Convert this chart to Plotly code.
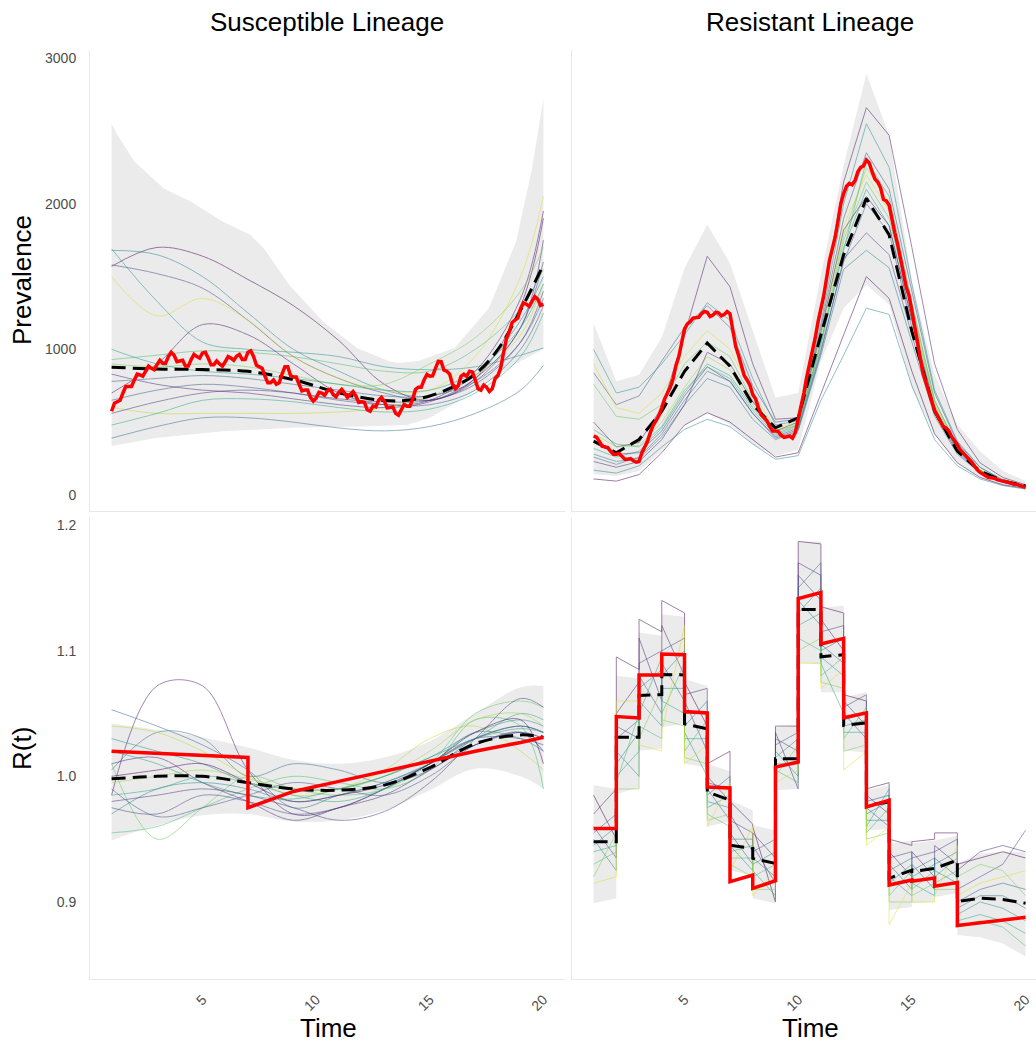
import plotly.graph_objects as go
from plotly.colors import sample_colorscale

# ================= DATA =================
# ---------- Top-left: Susceptible prevalence ----------
TL_X = [1, 3, 5, 7, 9, 11, 13, 15, 17, 19, 20]
TL_LINES = [
    [1570, 1700, 1640, 1480, 1300, 1060, 760, 650, 800, 1300, 1900],
    [1680, 1650, 1500, 1250, 1000, 850, 720, 680, 820, 1200, 1500],
    [1690, 1330, 1050, 1000, 980, 950, 880, 860, 880, 960, 1010],
    [1580, 1520, 1420, 1200, 950, 800, 700, 650, 780, 1150, 1600],
    [1500, 1230, 1350, 1200, 950, 800, 720, 720, 950, 1500, 2050],
    [700, 900, 1170, 1100, 900, 700, 620, 650, 850, 1350, 1950],
    [930, 960, 990, 980, 950, 900, 850, 850, 1000, 1280, 1550],
    [780, 800, 820, 800, 760, 720, 680, 680, 780, 1050, 1350],
    [650, 720, 760, 740, 700, 650, 620, 620, 720, 1000, 1300],
    [600, 560, 560, 560, 560, 570, 600, 680, 820, 1100, 1450],
    [480, 560, 650, 660, 640, 600, 570, 590, 700, 950, 1250],
    [390, 470, 530, 530, 500, 460, 440, 470, 560, 720, 890],
    [830, 760, 720, 700, 660, 620, 600, 640, 800, 1150, 1750],
    [900, 880, 900, 880, 820, 760, 760, 900, 1080, 1400, 1700],
    [1000, 900, 850, 830, 800, 760, 720, 720, 850, 1150, 1450],
    [560, 640, 700, 720, 700, 660, 640, 650, 760, 1050, 1400],
]
TL_MEAN_X = [1, 3, 5, 7, 9, 11, 13, 14, 15, 16, 17, 18, 19, 20]
TL_MEAN = [877, 865, 861, 849, 792, 701, 648, 650, 680, 740, 830, 1000, 1270, 1580]
TL_UP_X = [1, 1.3, 2, 3.3, 4.5, 5.9, 7.1, 7.7, 8.8, 10.3, 11.8, 13.2, 13.6, 14.5, 16.1, 17.6, 18.8, 19.5, 20]
TL_UP = [2550, 2460, 2290, 2105, 2014, 1877, 1787, 1694, 1445, 1192, 1009, 918, 906, 920, 1009, 1283, 1740, 2242, 2721]
TL_LO_X = [1, 3, 5.9, 9, 12, 14, 15, 16, 17, 18, 19, 20]
TL_LO = [336, 393, 438, 461, 470, 480, 530, 620, 720, 820, 920, 1000]
# observed (red) trajectory, sampled every 0.125 time units from t=1 to t=20
TL_RED = [575, 630, 640, 650, 700, 745, 745, 745, 790, 830, 825, 815, 850, 885, 870, 860,
          895, 925, 905, 905, 950, 980, 960, 915, 920, 925, 885, 885, 930, 965, 950, 940,
          975, 980, 940, 895, 895, 920, 900, 885, 915, 950, 940, 925, 952, 965, 930, 930,
          980, 990, 950, 890, 880, 870, 815, 770, 770, 790, 760, 770, 830, 880, 880, 820,
          810, 810, 760, 715, 720, 720, 670, 645, 665, 705, 700, 685, 715, 725, 690, 675,
          705, 725, 700, 670, 690, 710, 680, 635, 640, 635, 585, 575, 610, 605, 650, 670,
          645, 598, 600, 605, 560, 548, 585, 622, 610, 610, 660, 725, 740, 740, 790, 827,
          815, 818, 870, 917, 915, 857, 850, 830, 760, 730, 750, 815, 830, 815, 850, 845,
          790, 730, 720, 755, 740, 710, 730, 800, 820, 875, 980, 1075, 1120, 1185, 1200, 1215,
          1280, 1320, 1310, 1295, 1330, 1362, 1345, 1302, 1310]

# ---------- Top-right: Resistant prevalence ----------
TR_X = list(range(1, 21))
TR_LINES = [
    [500, 330, 360, 600, 1100, 1640, 1430, 900, 520, 530, 1250, 2150, 2660, 2470, 1700, 900, 450, 220, 120, 70],
    [840, 620, 680, 920, 1150, 1300, 1150, 750, 500, 520, 1150, 1900, 2350, 2100, 1400, 700, 360, 190, 100, 60],
    [1000, 700, 740, 900, 1100, 1320, 1200, 800, 480, 510, 1180, 2000, 2550, 2250, 1450, 720, 370, 190, 105, 65],
    [900, 600, 560, 700, 950, 1130, 1000, 700, 460, 500, 1100, 1850, 2200, 1950, 1300, 650, 330, 175, 95, 60],
    [760, 540, 520, 620, 900, 1050, 950, 650, 440, 480, 1050, 1750, 2150, 1900, 1250, 620, 320, 170, 95, 60],
    [110, 95, 140, 290, 480, 565, 500, 380, 260, 290, 700, 1100, 1500, 1350, 850, 420, 220, 120, 70, 45],
    [170, 150, 200, 330, 450, 520, 470, 350, 245, 270, 650, 960, 1283, 1240, 750, 380, 200, 110, 65, 40],
    [260, 210, 260, 420, 650, 850, 780, 560, 400, 460, 1000, 1600, 2000, 1800, 1150, 580, 300, 160, 90, 55],
    [320, 260, 300, 460, 700, 900, 820, 600, 420, 480, 1050, 1700, 2100, 1850, 1200, 600, 310, 165, 92, 58],
    [420, 330, 340, 500, 740, 950, 860, 620, 430, 490, 1080, 1780, 2250, 2000, 1280, 640, 330, 170, 95, 60],
    [360, 280, 290, 440, 680, 880, 780, 560, 390, 450, 980, 1620, 1800, 1650, 1100, 560, 290, 155, 88, 55],
    [280, 230, 250, 400, 620, 800, 740, 520, 380, 440, 960, 1550, 1680, 1560, 1050, 540, 280, 150, 85, 52],
    [450, 350, 330, 470, 720, 880, 800, 580, 410, 470, 1030, 1680, 2300, 2050, 1320, 650, 330, 170, 95, 60],
    [230, 190, 230, 380, 620, 980, 900, 640, 440, 500, 1120, 1820, 2050, 1850, 1200, 600, 310, 160, 90, 55],
]
TR_MEAN = [370, 290, 381, 575, 849, 1043, 884, 621, 461, 530, 1100, 1649, 2037, 1786, 1124, 575, 301, 164, 96, 62]
TR_UP = [1180, 781, 826, 1083, 1557, 1858, 1591, 1124, 667, 701, 1511, 2265, 2893, 2470, 1466, 826, 484, 301, 164, 96]
TR_LO = [142, 130, 164, 301, 484, 564, 484, 347, 267, 313, 918, 1283, 1443, 1306, 735, 415, 221, 119, 62, 39]
TR_RED = [404, 397, 370, 335, 330, 325, 300, 280, 280, 285, 265, 245, 245, 250, 235, 225,
          230, 290, 330, 370, 430, 480, 510, 545, 600, 660, 700, 740, 800, 890, 950, 1040,
          1140, 1175, 1190, 1215, 1220, 1220, 1245, 1260, 1255, 1225, 1235, 1255, 1250, 1230, 1240, 1260,
          1245, 1140, 1020, 960, 880, 820, 790, 755, 690, 660, 600, 550, 530, 510, 470, 440,
          440, 435, 410, 395, 400, 405, 390, 430, 520, 600, 700, 810, 900, 975, 1080, 1190,
          1280, 1370, 1490, 1610, 1690, 1770, 1880, 2000, 2070, 2120, 2140, 2130, 2160, 2220, 2250, 2260,
          2300, 2280, 2220, 2170, 2150, 2110, 2030, 2020, 1990, 1880, 1800, 1720, 1620, 1520, 1430, 1370,
          1270, 1170, 1050, 930, 830, 770, 700, 630, 580, 545, 500, 470, 460, 440, 400, 375,
          345, 310, 290, 275, 255, 228, 200, 172, 155, 145, 130, 120, 118, 115, 105, 97,
          95, 92, 85, 76, 74, 72, 65, 56, 52]

# ---------- Bottom-left: Susceptible R(t) ----------
BL_X = [1, 3, 5, 7, 9, 11, 13, 15, 17, 19, 20]
BL_LINES = [
    [0.985, 1.072, 1.072, 1.005, 0.970, 0.975, 0.990, 1.010, 1.030, 1.040, 1.035],
    [1.053, 1.040, 1.025, 1.005, 0.975, 0.985, 0.995, 1.010, 1.025, 1.035, 1.030],
    [1.005, 1.035, 1.030, 1.000, 1.010, 1.005, 0.995, 1.005, 1.030, 1.040, 1.035],
    [1.040, 1.035, 1.020, 1.000, 0.985, 0.990, 1.005, 1.030, 1.040, 1.020, 1.005],
    [0.955, 0.960, 0.975, 0.990, 1.000, 0.995, 0.990, 1.005, 1.045, 1.040, 0.990],
    [1.010, 0.950, 0.975, 1.000, 0.990, 0.985, 0.990, 1.010, 1.050, 1.060, 1.055],
    [1.030, 1.020, 1.010, 0.995, 0.990, 0.990, 1.000, 1.015, 1.035, 1.045, 1.040],
    [0.975, 0.970, 0.985, 0.980, 0.970, 0.975, 0.990, 1.010, 1.030, 1.030, 1.025],
    [1.010, 1.015, 0.995, 0.980, 0.965, 0.975, 0.985, 1.005, 1.025, 1.035, 1.020],
    [0.985, 0.990, 1.000, 0.995, 0.985, 0.980, 0.990, 1.010, 1.030, 1.050, 1.045],
    [0.970, 0.990, 0.995, 0.990, 0.980, 0.985, 0.995, 1.010, 1.035, 1.030, 1.020],
    [0.995, 1.000, 1.005, 0.998, 0.990, 0.990, 1.000, 1.020, 1.045, 1.050, 1.040],
    [0.990, 0.968, 0.975, 0.985, 0.995, 0.990, 0.985, 1.000, 1.025, 1.035, 1.030],
    [1.000, 1.005, 1.010, 0.995, 0.980, 0.985, 0.993, 1.010, 1.035, 1.045, 1.010],
    [1.020, 1.010, 0.995, 0.985, 0.982, 0.990, 1.000, 1.015, 1.030, 1.038, 1.035],
    [0.980, 0.985, 0.990, 0.985, 0.975, 0.965, 0.972, 0.995, 1.030, 1.062, 1.055],
]
BL_MEAN = [0.998, 1.000, 1.000, 0.995, 0.990, 0.989, 0.993, 1.007, 1.026, 1.033, 1.031]
BL_UP = [1.042, 1.037, 1.031, 1.023, 1.013, 1.010, 1.015, 1.028, 1.050, 1.071, 1.072]
BL_LO = [0.949, 0.961, 0.969, 0.970, 0.964, 0.965, 0.973, 0.989, 1.006, 1.000, 0.990]
BL_RED_X = [1, 7, 7, 9, 11, 13, 15, 17, 19, 20]
BL_RED = [1.020, 1.015, 0.975, 0.988, 0.996, 1.004, 1.012, 1.020, 1.027, 1.031]

# ---------- Bottom-right: Resistant R(t) (piecewise by interval) ----------
BR_BREAKS = list(range(1, 18))
BR_LAST_X = [17, 18, 19, 20]
BR_STARTS = [
    [0.985, 0.97, 0.96, 0.955, 0.95, 0.945, 0.94, 0.93, 0.92, 0.915],
    [1.095, 1.05, 1.04, 1.03, 1.02, 1.01, 1.0, 0.995, 0.99, 1.06],
    [1.125, 1.11, 1.09, 1.08, 1.07, 1.06, 1.05, 1.04, 1.03, 1.025],
    [1.14, 1.12, 1.1, 1.09, 1.08, 1.07, 1.06, 1.05, 1.045, 1.035],
    [1.075, 1.065, 1.06, 1.05, 1.04, 1.035, 1.03, 1.02, 1.015, 1.01],
    [1.01, 1.0, 0.995, 0.99, 0.985, 0.98, 0.975, 0.97, 0.965, 0.96],
    [0.98, 0.97, 0.965, 0.955, 0.95, 0.945, 0.94, 0.935, 0.93, 0.925],
    [0.96, 0.955, 0.945, 0.94, 0.935, 0.93, 0.925, 0.92, 0.91, 0.905],
    [1.04, 1.035, 1.03, 1.025, 1.02, 1.015, 1.01, 1.005, 1.0, 0.995],
    [1.187, 1.17, 1.16, 1.15, 1.14, 1.13, 1.12, 1.11, 1.1, 1.09],
    [1.135, 1.125, 1.115, 1.105, 1.1, 1.095, 1.09, 1.08, 1.075, 1.07],
    [1.065, 1.06, 1.055, 1.05, 1.045, 1.04, 1.035, 1.03, 1.02, 1.005],
    [0.99, 0.985, 0.98, 0.975, 0.97, 0.965, 0.96, 0.955, 0.95, 0.945],
    [0.95, 0.94, 0.935, 0.93, 0.925, 0.92, 0.915, 0.905, 0.9, 0.882],
    [0.948, 0.94, 0.935, 0.93, 0.925, 0.92, 0.915, 0.91, 0.905, 0.9],
    [0.955, 0.945, 0.94, 0.935, 0.93, 0.925, 0.92, 0.915, 0.91, 0.905],
]
BR_ENDS = [
    [0.95, 0.99, 0.935, 0.97, 0.925, 0.96, 0.945, 0.94, 0.955, 0.92],
    [1.085, 1.075, 1.03, 1.045, 1.0, 1.035, 1.02, 1.05, 0.99, 1.06],
    [1.115, 1.06, 1.1, 1.05, 1.085, 1.04, 1.095, 1.03, 1.07, 1.02],
    [1.13, 1.08, 1.11, 1.06, 1.1, 1.07, 1.05, 1.09, 1.04, 1.12],
    [1.04, 1.07, 1.02, 1.05, 1.06, 1.0, 1.03, 1.045, 1.01, 1.025],
    [1.02, 0.98, 0.99, 0.965, 1.0, 0.975, 0.985, 0.96, 0.97, 0.995],
    [0.962, 0.94, 0.955, 0.93, 0.95, 0.925, 0.945, 0.935, 0.92, 0.96],
    [0.9, 0.935, 0.915, 0.95, 0.92, 0.94, 0.905, 0.93, 0.91, 0.925],
    [1.04, 0.99, 1.02, 1.035, 1.0, 1.03, 1.01, 0.995, 1.025, 1.005],
    [1.185, 1.16, 1.14, 1.17, 1.12, 1.15, 1.13, 1.1, 1.11, 1.09],
    [1.13, 1.1, 1.12, 1.09, 1.11, 1.08, 1.05, 1.095, 1.07, 1.085],
    [1.06, 1.04, 1.065, 1.03, 1.05, 1.045, 1.035, 1.055, 1.025, 1.02],
    [0.995, 0.97, 0.985, 0.96, 0.98, 0.965, 0.99, 0.975, 0.955, 0.96],
    [0.945, 0.92, 0.94, 0.91, 0.935, 0.905, 0.93, 0.925, 0.9, 0.915],
    [0.95, 0.92, 0.94, 0.91, 0.935, 0.93, 0.905, 0.925, 0.915, 0.9],
    [0.955, 0.93, 0.95, 0.92, 0.94, 0.915, 0.935, 0.925, 0.91, 0.945],
]
BR_LAST = [
    [0.93, 0.935, 0.94, 0.935], [0.925, 0.94, 0.945, 0.94], [0.91, 0.92, 0.93, 0.957],
    [0.9, 0.91, 0.915, 0.91], [0.895, 0.905, 0.905, 0.895], [0.89, 0.9, 0.895, 0.885],
    [0.885, 0.89, 0.885, 0.875], [0.88, 0.885, 0.88, 0.865], [0.92, 0.93, 0.925, 0.905],
    [0.905, 0.915, 0.92, 0.925],
]
BR_UP_S = [0.993, 1.080, 1.1145, 1.129, 1.0775, 1.010, 0.981, 0.961, 1.039, 1.187, 1.134, 1.063, 0.989, 0.9466, 0.9466, 0.949]
BR_UP_E = [0.990, 1.078, 1.112, 1.127, 1.072, 1.004, 0.973, 0.957, 1.040, 1.187, 1.136, 1.067, 0.993, 0.949, 0.949, 0.953]
BR_LO_S = [0.899, 0.986, 1.0206, 1.039, 1.010, 0.960, 0.925, 0.903, 0.989, 1.0907, 1.067, 1.0206, 0.957, 0.8937, 0.899, 0.904]
BR_LO_E = [0.903, 0.991, 1.022, 1.042, 1.007, 0.964, 0.921, 0.899, 0.990, 1.089, 1.067, 1.019, 0.958, 0.896, 0.900, 0.907]
BR_UP_LAST = [0.9307, 0.9386, 0.940, 0.940]
BR_LO_LAST = [0.8738, 0.872, 0.867, 0.8566]
BR_MEAN_S = [0.9479, 1.0312, 1.0643, 1.081, 1.0418, 0.9876, 0.9452, 0.9347, 1.014, 1.1328, 1.0952, 1.0405, 0.977, 0.9188, 0.924, 0.9267]
BR_MEAN_E = [0.9479, 1.0312, 1.065, 1.0807, 1.0378, 0.981, 0.9426, 0.9307, 1.014, 1.1328, 1.0968, 1.0426, 0.9796, 0.9254, 0.9267, 0.9333]
BR_MEAN_LAST = [0.9003, 0.903, 0.902, 0.899]
BR_RED_S = [0.9585, 1.0476, 1.0807, 1.0973, 1.0516, 0.9915, 0.9162, 0.9108, 1.0074, 1.1415, 1.1053, 1.0466, 0.9757, 0.9135, 0.9165, 0.9125]
BR_RED_E = [0.9585, 1.0465, 1.0807, 1.0968, 1.0505, 0.9907, 0.9214, 0.9169, 1.0114, 1.1463, 1.1098, 1.0505, 0.981, 0.9175, 0.919, 0.9155]
BR_RED_LAST_X = [17, 20]
BR_RED_LAST = [0.8812, 0.8878]

# Axis ticks / labels
X_TICKS = [5, 10, 15, 20]
TOP_Y_TICKS = [0, 1000, 2000, 3000]
BOT_Y_TICKS = [0.9, 1.0, 1.1, 1.2]
BOT_Y_TEXT = ["0.9", "1.0", "1.1", "1.2"]
COL_TITLES = ["Susceptible Lineage", "Resistant Lineage"]

# ================= STYLE =================
FONT = "Liberation Sans, Arial, sans-serif"
RIBBON = "#EBEBEB"
AXLINE = "#E8E8E8"
LINE_ALPHA = 0.5
RED_W = 3.5
MEAN_W = 3
MEAN_DASH = "14px,7px"

TL_CPOS = [0.0, 0.45, 0.5, 0.2, 0.95, 0.05, 0.7, 0.3, 0.25, 0.9, 0.6, 0.35, 0.1, 0.8, 0.55, 0.15]
TR_CPOS = [0.05, 0.25, 0.5, 0.95, 0.75, 0.0, 0.45, 0.3, 0.6, 0.85, 0.2, 0.4, 0.65, 0.1]
BL_CPOS = [0.05, 0.3, 0.35, 0.9, 0.7, 0.75, 0.5, 0.2, 0.1, 0.6, 0.45, 0.85, 0.25, 0.0, 0.55, 0.15]
BR_CPOS = [0.0, 0.1, 0.2, 0.3, 0.4, 0.5, 0.6, 0.7, 0.8, 0.95]


def colors(pos):
    return sample_colorscale("Viridis", pos)


def time_grid(n, t0=1.0, t1=20.0):
    step = (t1 - t0) / (n - 1)
    return [t0 + step * i for i in range(n)]


fig = go.Figure()


def ribbon(xu, yu, xl, yl, ax, shape="linear"):
    fig.add_trace(go.Scatter(x=xu + xl[::-1], y=yu + yl[::-1], fill="toself", fillcolor=RIBBON,
                             line=dict(width=0, shape=shape), mode="lines", hoverinfo="skip",
                             xaxis="x" + ax, yaxis="y" + ax, showlegend=False))


def thin(xs, ys, col, ax, shape="linear"):
    fig.add_trace(go.Scatter(x=xs, y=ys, mode="lines", opacity=LINE_ALPHA,
                             line=dict(color=col, width=1, shape=shape, smoothing=1.0),
                             xaxis="x" + ax, yaxis="y" + ax, showlegend=False, hoverinfo="skip"))


def mean(xs, ys, ax, shape="linear"):
    fig.add_trace(go.Scatter(x=xs, y=ys, mode="lines",
                             line=dict(color="black", width=MEAN_W, dash=MEAN_DASH, shape=shape, smoothing=1.0),
                             xaxis="x" + ax, yaxis="y" + ax, showlegend=False))


def red(xs, ys, ax):
    fig.add_trace(go.Scatter(x=xs, y=ys, mode="lines", line=dict(color="#FF0000", width=RED_W),
                             xaxis="x" + ax, yaxis="y" + ax, showlegend=False))


# ---- Panel 1 (top-left) ----
ribbon(TL_UP_X, TL_UP, TL_LO_X, TL_LO, "")
for ys, c in zip(TL_LINES, colors(TL_CPOS)):
    thin(TL_X, ys, c, "", "spline")
mean(TL_MEAN_X, TL_MEAN, "", "spline")
red(time_grid(len(TL_RED)), TL_RED, "")

# ---- Panel 2 (top-right) ----
ribbon(TR_X, TR_UP, TR_X, TR_LO, "2")
for ys, c in zip(TR_LINES, colors(TR_CPOS)):
    thin(TR_X, ys, c, "2")
mean(TR_X, TR_MEAN, "2")
red(time_grid(len(TR_RED)), TR_RED, "2")

# ---- Panel 3 (bottom-left) ----
fig.add_trace(go.Scatter(x=BL_X, y=BL_LO, mode="lines", line=dict(width=0, shape="spline"),
                         xaxis="x3", yaxis="y3", showlegend=False, hoverinfo="skip"))
fig.add_trace(go.Scatter(x=BL_X, y=BL_UP, mode="lines", line=dict(width=0, shape="spline"),
                         fill="tonexty", fillcolor=RIBBON,
                         xaxis="x3", yaxis="y3", showlegend=False, hoverinfo="skip"))
for ys, c in zip(BL_LINES, colors(BL_CPOS)):
    thin(BL_X, ys, c, "3", "spline")
mean(BL_X, BL_MEAN, "3", "spline")
red(BL_RED_X, BL_RED, "3")


# ---- Panel 4 (bottom-right) ----
def step_path(s, e, last_x, last_y):
    xs, ys = [], []
    for i in range(len(s)):
        xs += [BR_BREAKS[i], BR_BREAKS[i + 1]]
        ys += [s[i], e[i]]
    return xs + list(last_x), ys + list(last_y)


ux, uy = step_path(BR_UP_S, BR_UP_E, BR_LAST_X, BR_UP_LAST)
lx, ly = step_path(BR_LO_S, BR_LO_E, BR_LAST_X, BR_LO_LAST)
ribbon(ux, uy, lx, ly, "4")
br_cols = colors(BR_CPOS)
for k in range(len(BR_CPOS)):
    xs, ys = step_path([r[k] for r in BR_STARTS], [r[k] for r in BR_ENDS], BR_LAST_X, BR_LAST[k])
    thin(xs, ys, br_cols[k], "4")
mx, my = step_path(BR_MEAN_S, BR_MEAN_E, BR_LAST_X, BR_MEAN_LAST)
mean(mx, my, "4")
rx, ry = step_path(BR_RED_S, BR_RED_E, BR_RED_LAST_X, BR_RED_LAST)
red(rx, ry, "4")

# ================= LAYOUT =================
TICKFONT = dict(family=FONT, size=14, color="#4D4D4D")
XDOM_L = [0, 0.5021]
XDOM_R = [0.5095, 1.0]
YDOM_T = [0.5038, 1.0]
YDOM_B = [0.0, 0.4962]


def xax(dom, rng, anchor, labels):
    return dict(domain=dom, range=rng, anchor=anchor, showgrid=False, zeroline=False,
                showline=True, linecolor=AXLINE, linewidth=1, ticks="",
                tickvals=X_TICKS, showticklabels=labels, tickangle=-45,
                tickfont=TICKFONT, ticklabelstandoff=6)


def yax(dom, rng, anchor, labels, vals, text=None):
    d = dict(domain=dom, range=rng, anchor=anchor, showgrid=False, zeroline=False,
             showline=True, linecolor=AXLINE, linewidth=1, ticks="",
             tickvals=vals, showticklabels=labels, tickfont=TICKFONT, ticklabelstandoff=10)
    if text:
        d["ticktext"] = text
    return d


TOP_RANGE = [-110, 3056]
BOT_RANGE = [0.8387, 1.2056]

fig.update_layout(
    width=1036, height=1045,
    margin=dict(l=90, r=0, t=50, b=66),
    paper_bgcolor="white", plot_bgcolor="white",
    font=dict(family=FONT, color="black"),
    showlegend=False,
    xaxis=xax(XDOM_L, [0.05, 20.95], "y", False),
    yaxis=yax(YDOM_T, TOP_RANGE, "x", True, TOP_Y_TICKS),
    xaxis2=xax(XDOM_R, [0.05, 20.46], "y2", False),
    yaxis2=yax(YDOM_T, TOP_RANGE, "x2", False, TOP_Y_TICKS),
    xaxis3=xax(XDOM_L, [0.05, 20.95], "y3", True),
    yaxis3=yax(YDOM_B, BOT_RANGE, "x3", True, BOT_Y_TICKS, BOT_Y_TEXT),
    xaxis4=xax(XDOM_R, [0.05, 20.46], "y4", True),
    yaxis4=yax(YDOM_B, BOT_RANGE, "x4", False, BOT_Y_TICKS, BOT_Y_TEXT),
)

ANN_FONT = dict(family=FONT, size=26, color="black")
annotations = [
    dict(text=COL_TITLES[0], x=0.2505, y=1.0301),
    dict(text=COL_TITLES[1], x=0.7611, y=1.0301),
    dict(text="Time", x=0.2516, y=-0.0527),
    dict(text="Time", x=0.7611, y=-0.0527),
    dict(text="Prevalence", x=-0.0719, y=0.7524, textangle=-90),
    dict(text="R(t)", x=-0.0719, y=0.2487, textangle=-90),
]
for a in annotations:
    a.update(xref="paper", yref="paper", showarrow=False, xanchor="center", yanchor="middle", font=ANN_FONT)
fig.update_layout(annotations=annotations)

fig.write_html("out.html")
